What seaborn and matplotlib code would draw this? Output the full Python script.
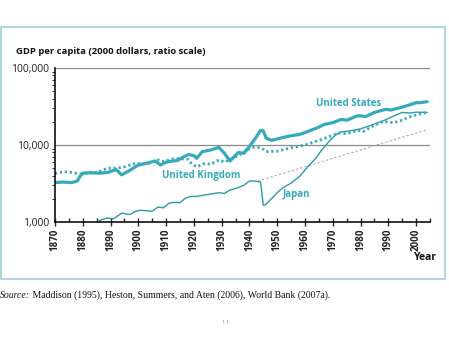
import numpy as np
import pandas as pd
import matplotlib
matplotlib.use("Agg")
import matplotlib.pyplot as plt
import matplotlib.ticker as mticker
from matplotlib.patches import Rectangle
import seaborn as sns

# ---------------- data ----------------
us_years = [1870, 1873, 1876, 1878, 1879, 1880, 1883, 1886, 1889, 1892, 1894, 1897,
            1900, 1903, 1906, 1908, 1910, 1914, 1916, 1918, 1920, 1921, 1923, 1926,
            1929, 1931, 1933, 1936, 1938, 1940, 1942, 1944, 1945, 1946, 1948, 1950,
            1952, 1955, 1958, 1960, 1964, 1967, 1970, 1973, 1975, 1979, 1982, 1985,
            1989, 1991, 1995, 1998, 2000, 2001, 2004]
us_gdp = [3250, 3300, 3250, 3400, 3900, 4300, 4350, 4300, 4400, 4800, 4100, 4700,
          5500, 5800, 6200, 5500, 6000, 6300, 6900, 7500, 7300, 6700, 8200, 8600,
          9300, 7800, 6200, 8000, 7800, 9600, 12000, 15500, 15200, 12300, 11500, 12000,
          12500, 13200, 13700, 14500, 16500, 18500, 19500, 21500, 21000, 24000, 23500, 26500,
          29000, 28500, 31000, 33500, 35500, 35300, 36500]

uk_years = [1870, 1873, 1876, 1879, 1882, 1885, 1889, 1892, 1895, 1899, 1901, 1904,
            1907, 1909, 1913, 1916, 1918, 1919, 1921, 1924, 1926, 1929, 1931, 1935,
            1939, 1941, 1943, 1945, 1946, 1950, 1955, 1960, 1966, 1972, 1975, 1979,
            1981, 1984, 1988, 1992, 1995, 1997, 2000, 2004]
uk_gdp = [4250, 4500, 4400, 4200, 4450, 4400, 5000, 5000, 5200, 5800, 5700, 5800,
          6400, 6100, 6700, 6600, 6500, 5800, 5200, 5800, 5600, 6400, 6000, 7000,
          8500, 9300, 9300, 8800, 8200, 8300, 9200, 10000, 11800, 14300, 14000, 15500,
          15000, 17300, 20200, 19500, 21000, 22800, 24500, 26700]

jp_years = [1885, 1887, 1889, 1891, 1894, 1897, 1899, 1901, 1903, 1905, 1907, 1909,
            1911, 1913, 1915, 1917, 1919, 1921, 1924, 1926, 1929, 1931, 1933, 1936,
            1938, 1940, 1942, 1944, 1945, 1946, 1950, 1952, 1955, 1958, 1961, 1964,
            1966, 1969, 1971, 1973, 1976, 1980, 1984, 1988, 1991, 1995, 1998, 2000, 2004]
jp_gdp = [1000, 1080, 1130, 1100, 1300, 1250, 1380, 1420, 1400, 1380, 1560, 1530,
          1750, 1800, 1780, 2050, 2150, 2150, 2250, 2300, 2400, 2350, 2600, 2800,
          3000, 3400, 3400, 3300, 1650, 1700, 2400, 2780, 3200, 3900, 5200, 6800,
          8600, 11500, 13500, 14800, 15200, 16200, 18200, 20500, 23000, 26500, 26000, 26700, 26500]

trend_years = [1943, 2004]
trend_gdp = [3400, 15800]

y_ticks = [1000, 10000, 100000]
y_ticklabels = ["1,000", "10,000", "100,000"]
x_ticks = list(range(1870, 2001, 10))

title = "GDP per capita (2000 dollars, ratio scale)"
series_labels = ["United States", "United Kingdom", "Japan"]
source_lead = "Source:"
source_rest = " Maddison (1995), Heston, Summers, and Aten (2006), World Bank (2007a)."

# ---------------- style ----------------
sns.set_style("white")
plt.rcParams["font.family"] = ["Open Sans", "DejaVu Sans"]

TEAL = "#35aabb"
TEAL_DARK = "#2b9aab"
GRAY = "#a8a8a8"

W, H = 449, 337
fig = plt.figure(figsize=(W / 100, H / 100), dpi=100)

def fx(px):
    return px / W

def fy(py):
    return 1 - py / H

ax = fig.add_axes([fx(55), fy(222), fx(430) - fx(55), fy(68) - fy(222)])

us = pd.DataFrame({"year": us_years, "gdp": us_gdp})
uk = pd.DataFrame({"year": uk_years, "gdp": uk_gdp})
jp = pd.DataFrame({"year": jp_years, "gdp": jp_gdp})
tr = pd.DataFrame({"year": trend_years, "gdp": trend_gdp})

sns.lineplot(data=tr, x="year", y="gdp", ax=ax, color=GRAY, linewidth=0.8,
             linestyle=(0, (2, 2)))
sns.lineplot(data=jp, x="year", y="gdp", ax=ax, color=TEAL_DARK, linewidth=1.0)
sns.lineplot(data=uk, x="year", y="gdp", ax=ax, color=TEAL, linewidth=2.0,
             linestyle=(0, (0.8, 1.0)))
sns.lineplot(data=us, x="year", y="gdp", ax=ax, color=TEAL, linewidth=2.3,
             solid_joinstyle="round")

ax.set_yscale("log")
ax.set_ylim(1000, 100000)
ax.set_xlim(1870, 2005)

for v in [10000, 100000]:
    ax.axhline(v, color="#8a8a8a", linewidth=0.9, zorder=0)

ax.set_yticks(y_ticks)
ax.set_yticklabels(y_ticklabels, fontsize=7.5, color="#222222")
ax.yaxis.set_minor_locator(mticker.LogLocator(base=10, subs=np.arange(2, 10)))
ax.yaxis.set_minor_formatter(mticker.NullFormatter())
ax.tick_params(axis="y", which="major", length=0, pad=4)
ax.tick_params(axis="y", which="minor", length=2.5, width=0.7, direction="out", left=True)

ax.set_xticks(x_ticks)
ax.set_xticklabels([str(t) for t in x_ticks], rotation=90, fontsize=7,
                   fontweight="bold", color="#222222")
ax.xaxis.set_minor_locator(mticker.MultipleLocator(5))
ax.tick_params(axis="x", which="major", length=6, width=1.0, direction="inout", pad=2,
               bottom=True)
ax.tick_params(axis="x", which="minor", length=3, width=1.0, direction="in", bottom=True)

ax.set_xlabel("")
ax.set_ylabel("")
for s in ["top", "right"]:
    ax.spines[s].set_visible(False)
for s in ["left", "bottom"]:
    ax.spines[s].set_color("#111111")
    ax.spines[s].set_linewidth(1.2)
ax.patch.set_alpha(0)

# series labels
fig.text(fx(349), fy(104), series_labels[0], ha="center", va="center",
         fontsize=7, fontweight="bold", color=TEAL)
fig.text(fx(201), fy(175), series_labels[1], ha="center", va="center",
         fontsize=7, fontweight="bold", color=TEAL)
fig.text(fx(296), fy(194), series_labels[2], ha="center", va="center",
         fontsize=7, fontweight="bold", color=TEAL)

fig.text(fx(16), fy(52), title, ha="left", va="center", fontsize=6.8,
         fontweight="bold", color="#111111")
fig.text(fx(437), fy(258), "Year", ha="right", va="center", fontsize=7.5,
         fontweight="bold", color="#111111")

# frame
fig.patches.append(Rectangle((fx(1), fy(279)), fx(445) - fx(1), fy(27) - fy(279),
                             transform=fig.transFigure, fill=False,
                             edgecolor="#a6d3da", linewidth=1.3))

# source line
t1 = fig.text(fx(0), fy(295), source_lead, ha="left", va="center", fontsize=7,
              family="Liberation Serif", style="italic", color="#111111")
fig.canvas.draw()
bb = t1.get_window_extent(renderer=fig.canvas.get_renderer())
fig.text(bb.x1 / W, fy(295), source_rest, ha="left", va="center", fontsize=7,
         family="Liberation Serif", color="#111111")

fig.text(fx(225), fy(322), "1-1", ha="center", va="center", fontsize=4,
         color="#999999")

fig.savefig("out.png", dpi=100)
